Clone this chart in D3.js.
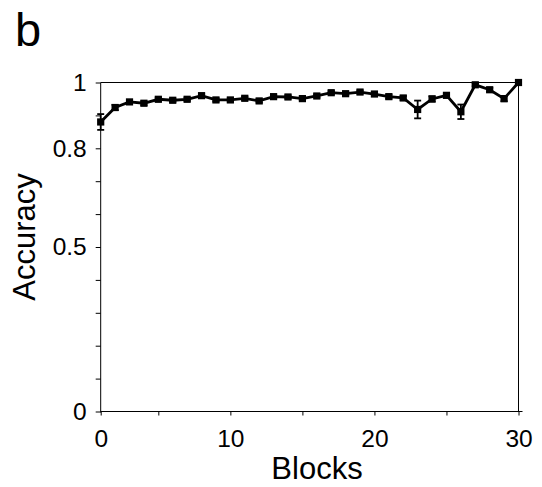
<!DOCTYPE html>
<html>
<head>
<meta charset="utf-8">
<script src="https://cdn.jsdelivr.net/npm/d3@7"></script>
<style>
  body { margin: 0; background: #fff; }
  svg { display: block; font-family: "Liberation Sans", Arial, sans-serif; }
</style>
</head>
<body>
<div id="chart"></div>
<script>
//          Chart data
var blocks = d3.range(1, 31);
var accuracy = [0.880, 0.924, 0.941, 0.937, 0.949, 0.946, 0.949, 0.960, 0.947, 0.947,
                0.952, 0.944, 0.957, 0.956, 0.951, 0.959, 0.969, 0.966, 0.971, 0.965,
                0.957, 0.953, 0.918, 0.950, 0.961, 0.911, 0.993, 0.978, 0.951, 1.000];
var errors   = [0.024, 0.008, 0.006, 0.006, 0.005, 0.005, 0.005, 0.005, 0.005, 0.005,
                0.005, 0.005, 0.005, 0.005, 0.005, 0.005, 0.005, 0.005, 0.005, 0.005,
                0.006, 0.006, 0.027, 0.008, 0.007, 0.022, 0.004, 0.006, 0.008, 0.000];
var xTickValues = [1, 5, 10, 15, 20, 25, 30];
var xTickLabels = ["0", "", "10", "", "20", "", "30"];
var yTickValues = [0, 0.1, 0.2, 0.3, 0.4, 0.5, 0.6, 0.7, 0.8, 0.9, 1];
var yTickLabels = ["0", "", "", "", "", "0.5", "", "", "0.8", "", "1"];

//          Chart settings
var W = 542, H = 487;
var plotLeft = 100.7, plotRight = 518.5, plotTop = 82.5, plotBottom = 411.5;

var svg = d3.select("#chart").append("svg")
    .attr("width", W)
    .attr("height", H);

var x = d3.scaleLinear().domain([1, 30]).range([plotLeft, plotRight]);
var y = d3.scaleLinear().domain([0, 1]).range([plotBottom, plotTop]);

//          Frame (top and right)
svg.append("line").attr("x1", plotLeft).attr("x2", plotRight).attr("y1", plotTop).attr("y2", plotTop)
    .attr("stroke", "#000").attr("stroke-width", 1);
svg.append("line").attr("x1", plotRight).attr("x2", plotRight).attr("y1", plotTop).attr("y2", plotBottom)
    .attr("stroke", "#000").attr("stroke-width", 1);

//          Axes
var xAxis = d3.axisBottom(x).tickValues(xTickValues)
    .tickFormat(function(d, i) { return xTickLabels[i]; })
    .tickSizeInner(4).tickSizeOuter(0).tickPadding(14);
var gx = svg.append("g").attr("transform", "translate(0," + plotBottom + ")").call(xAxis);

var yAxis = d3.axisLeft(y).tickValues(yTickValues)
    .tickFormat(function(d, i) { return yTickLabels[i]; })
    .tickSizeInner(5).tickSizeOuter(0).tickPadding(9);
var gy = svg.append("g").attr("transform", "translate(" + plotLeft + ",0)").call(yAxis);

[gx, gy].forEach(function(g) {
    g.selectAll("path, line").attr("stroke", "#000").attr("stroke-width", 1);
    g.selectAll("text").style("font-size", "24.5px").attr("fill", "#000")
        .style("font-family", "'Liberation Sans', Arial, sans-serif");
});
gx.select(".domain").attr("d", "M" + plotLeft + ",0H" + (plotRight + 4));
gy.select(".domain").attr("d", "M0," + plotTop + "V" + (plotBottom + 1));

//          Data series
var pts = blocks.map(function(b, i) { return {x: b, y: accuracy[i], e: errors[i]}; });

var line = d3.line().x(function(d) { return x(d.x); }).y(function(d) { return y(d.y); });
svg.append("path").datum(pts)
    .attr("d", line)
    .attr("fill", "none")
    .attr("stroke", "#000")
    .attr("stroke-width", 2.8);

var eb = svg.selectAll("g.err").data(pts.filter(function(d) { return d.e > 0; })).enter()
    .append("g").attr("class", "err").attr("stroke", "#000").attr("stroke-width", 1.8);
eb.append("line")
    .attr("x1", function(d) { return x(d.x); }).attr("x2", function(d) { return x(d.x); })
    .attr("y1", function(d) { return y(d.y + d.e); }).attr("y2", function(d) { return y(d.y - d.e); });
eb.append("line")
    .attr("x1", function(d) { return x(d.x) - 3.5; }).attr("x2", function(d) { return x(d.x) + 3.5; })
    .attr("y1", function(d) { return y(d.y + d.e); }).attr("y2", function(d) { return y(d.y + d.e); });
eb.append("line")
    .attr("x1", function(d) { return x(d.x) - 3.5; }).attr("x2", function(d) { return x(d.x) + 3.5; })
    .attr("y1", function(d) { return y(d.y - d.e); }).attr("y2", function(d) { return y(d.y - d.e); });

svg.selectAll("rect.mark").data(pts).enter().append("rect")
    .attr("class", "mark")
    .attr("x", function(d) { return x(d.x) - 3.6; })
    .attr("y", function(d) { return y(d.y) - 3.6; })
    .attr("width", 7.2)
    .attr("height", 7.2)
    .attr("fill", "#000");

//          Titles
svg.append("text")
    .text("Blocks")
    .attr("x", 317)
    .attr("y", 479)
    .attr("text-anchor", "middle")
    .style("font-size", "31px");

svg.append("text")
    .text("Accuracy")
    .attr("transform", "translate(35,237) rotate(-90)")
    .attr("text-anchor", "middle")
    .style("font-size", "31px");

svg.append("text")
    .text("b")
    .attr("x", 15)
    .attr("y", 46)
    .style("font-size", "47px");
</script>
</body>
</html>
